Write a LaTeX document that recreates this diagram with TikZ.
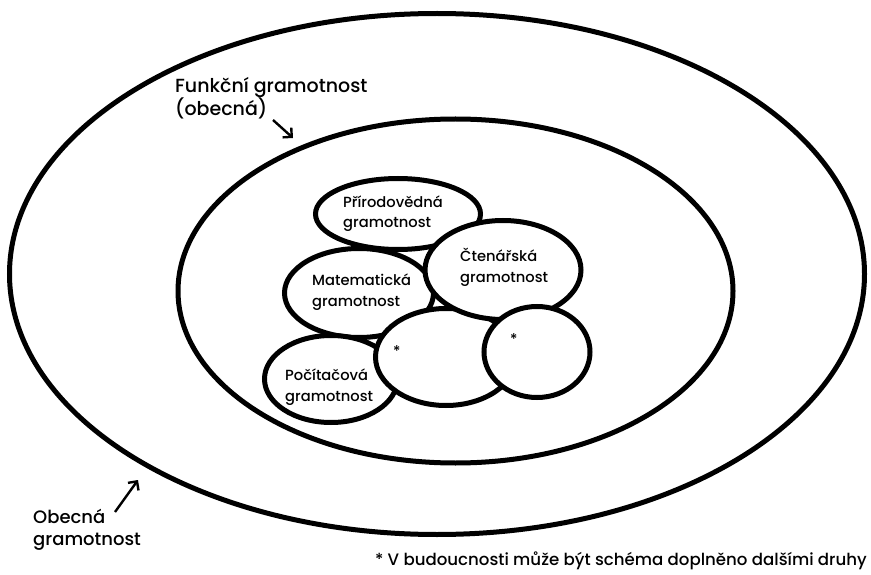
\documentclass[tikz,border=0pt]{standalone}
\usepackage{fontspec}
\setmainfont{Poppins Medium}
\usetikzlibrary{shapes.geometric,arrows.meta}
\tikzset{
  ring/.style={draw=black, line width=5pt, ellipse, fill=white, inner sep=0pt, outer sep=0pt},
  lbl/.style={align=left, inner sep=0pt, anchor=base west, font=\fontsize{14.7}{20.5}\selectfont},
  biglbl/.style={align=left, inner sep=0pt, anchor=base west, font=\fontsize{19}{21}\selectfont},
  ptr/.style={line width=2.4pt, -{Straight Barb[length=6.5pt,width=13pt]}}
}
\begin{document}
\begin{tikzpicture}[x=1pt,y=-1pt]
\useasboundingbox[fill=white] (0,0) rectangle (871,575);
% outer and inner
\node[ring, minimum width=855pt, minimum height=521pt] (outer) at (437,274) {};
\node[ring, minimum width=555pt, minimum height=344pt] (inner) at (455.5,291) {};
% small ellipses (drawing order matters)
\node[ring, minimum width=165pt, minimum height=71pt] (prir) at (398,214) {};
\node[ring, minimum width=149pt, minimum height=89pt] (mat) at (359,293) {};
\node[ring, minimum width=133pt, minimum height=87pt] (poc) at (331,379) {};
\node[ring, minimum width=141pt, minimum height=97pt] (e1) at (446,357) {};
\node[ring, minimum width=156pt, minimum height=99pt] (cten) at (503,270) {};
\node[ring, minimum width=106pt, minimum height=91pt] (e2) at (537,352) {};
% texts
\node[lbl] (tprir) at (343,227.5) {Přírodovědná\\gramotnost};
\node[lbl] (tcten) at (460,282) {Čtenářská\\gramotnost};
\node[lbl] (tmat) at (312,306) {Matematická\\gramotnost};
\node[lbl] (tpoc) at (285,401) {Počítačová\\gramotnost};
\node[lbl] (s1) at (393,356) {*};
\node[lbl] (s2) at (510,344) {*};
\node[biglbl] (tfun) at (175,116) {Funkční gramotnost\\(obecná)};
\node[biglbl, font=\fontsize{18}{22}\selectfont] (tobe) at (33,545) {Obecná\\gramotnost};
\node[lbl, anchor=base east, font=\fontsize{16.6}{18}\selectfont] (note) at (867,565) {* V budoucnosti může být schéma doplněno dalšími druhy};
% pointers
\coordinate (pf) at (293,138);
\coordinate (po) at (138,480);
\coordinate (qf) at (273,120);
\coordinate (qo) at (115,512);
\draw[ptr] (qf) -- (pf);
\draw[ptr] (qo) -- (po);
\end{tikzpicture}
\end{document}
